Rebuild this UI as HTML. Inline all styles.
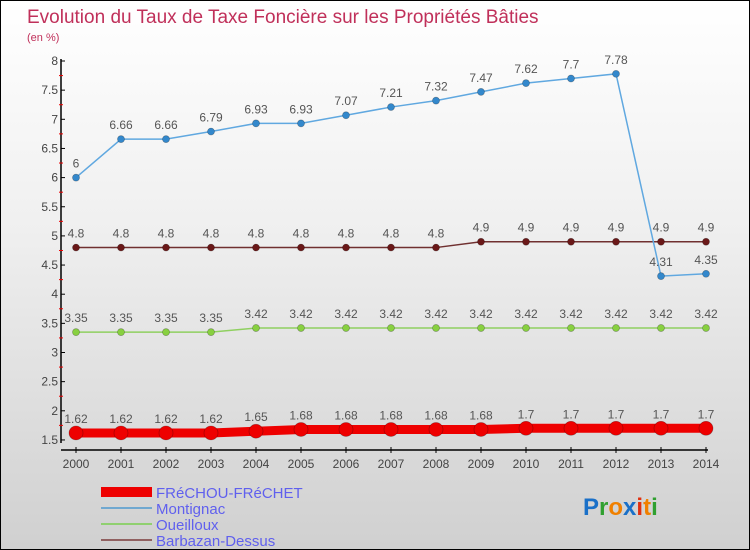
<!DOCTYPE html>
<html><head><meta charset="utf-8"><style>
body{margin:0}
#c{position:relative;width:748px;height:548px;border:1px solid #000;background:linear-gradient(#fff 0%,#f0f0f0 40%,#d0d0d0 100%);font-family:"Liberation Sans",sans-serif;overflow:hidden}
</style></head><body>
<div id="c">
<svg id="s" width="748" height="548" xmlns="http://www.w3.org/2000/svg" style="position:absolute;left:0;top:0"></svg>
</div>
<script>
const years=[2000,2001,2002,2003,2004,2005,2006,2007,2008,2009,2010,2011,2012,2013,2014];
const frechou=[1.62,1.62,1.62,1.62,1.65,1.68,1.68,1.68,1.68,1.68,1.7,1.7,1.7,1.7,1.7];
const montignac=[6,6.66,6.66,6.79,6.93,6.93,7.07,7.21,7.32,7.47,7.62,7.7,7.78,4.31,4.35];
const oueilloux=[3.35,3.35,3.35,3.35,3.42,3.42,3.42,3.42,3.42,3.42,3.42,3.42,3.42,3.42,3.42];
const barbazan=[4.8,4.8,4.8,4.8,4.8,4.8,4.8,4.8,4.8,4.9,4.9,4.9,4.9,4.9,4.9];
const yTicks=[1.5,2,2.5,3,3.5,4,4.5,5,5.5,6,6.5,7,7.5,8];
const seriesNames=["FRéCHOU-FRéCHET","Montignac","Oueilloux","Barbazan-Dessus"];
const NS="http://www.w3.org/2000/svg",s=document.getElementById('s');
const X=y=>75+(y-2000)*45, Y=v=>60+(8-v)*58.3;
function el(t,a,p){const e=document.createElementNS(NS,t);for(const k in a)e.setAttribute(k,a[k]);(p||s).appendChild(e);return e;}
function fmt(v){return String(v);}
let t=el('text',{x:26,y:22,fill:'#c0305a','font-size':19});t.textContent='Evolution du Taux de Taxe Foncière sur les Propriétés Bâties';


t=el('text',{x:26,y:40,fill:'#c0305a','font-size':11});t.textContent='(en %)';


let ax=el('line',{x1:60,y1:58,x2:60,y2:442,stroke:'#000','stroke-width':1.5});


ax=el('line',{x1:60,y1:449,x2:707,y2:449,stroke:'#000','stroke-width':1.5});


yTicks.forEach((v,i)=>{
 el('line',{x1:60,y1:Y(v),x2:64,y2:Y(v),stroke:'#000'});
 if(i<yTicks.length-1)el('line',{x1:58,y1:Y(v+0.25),x2:62,y2:Y(v+0.25),stroke:'#e00'});
 const tt=el('text',{x:57,y:Y(v)+4,'text-anchor':'end','font-size':12,fill:'#444'});tt.textContent=fmt(v);
 
 
});
years.forEach(yr=>{
 el('line',{x1:X(yr),y1:446,x2:X(yr),y2:452,stroke:'#000'});
 const tt=el('text',{x:X(yr),y:467,'text-anchor':'middle','font-size':12,fill:'#444'});tt.textContent=yr;
 
 
});
function series(data,color,dot,w,r,name){
 const g=el('g',{});
 
 
 el('polyline',{points:data.map((v,i)=>X(years[i])+','+Y(v)).join(' '),fill:'none',stroke:color,'stroke-width':w},g);
 data.forEach((v,i)=>{
  const c=el('circle',{cx:X(years[i]),cy:Y(v),r:r,fill:dot,stroke:'rgba(0,0,0,0.3)','stroke-width':0.7},g);
  
  
  const tt=el('text',{x:X(years[i]),y:Y(v)-10,'text-anchor':'middle','font-size':12,fill:'#555'},g);tt.textContent=fmt(v);
 });
}
series(oueilloux,'#8fd060','#88d040',1.5,3.5,'series-oueilloux');
series(barbazan,'#703030','#6a1818',1.5,3.5,'series-barbazan');
series(montignac,'#60a8e0','#3388cc',1.5,3.5,'series-montignac');
series(frechou,'#ee0000','#ee0000',9,7,'series-frechou');
const leg=[['#ee0000',10],['#70a8d0',2],['#90d070',2],['#906060',2]];
leg.forEach((l,i)=>{
 const g=el('g',{});
 
 
 const yy=491+i*16;
 el('line',{x1:100,y1:yy,x2:151,y2:yy,stroke:l[0],'stroke-width':l[1]},g);
 const tt=el('text',{x:155,y:yy+6,'font-size':15,fill:'#6060ee'},g);tt.textContent=seriesNames[i];
});
const lg=el('text',{x:582,y:514,'font-size':24,'font-weight':'bold'});


[['P','#1a70c8'],['r','#30a030'],['o','#f08000'],['x','#1a70c8'],['i','#e03010'],['t','#f08000'],['i','#30a030']].forEach(p=>{const ts=el('tspan',{fill:p[1]},lg);ts.textContent=p[0];});
</script>
</body></html>
